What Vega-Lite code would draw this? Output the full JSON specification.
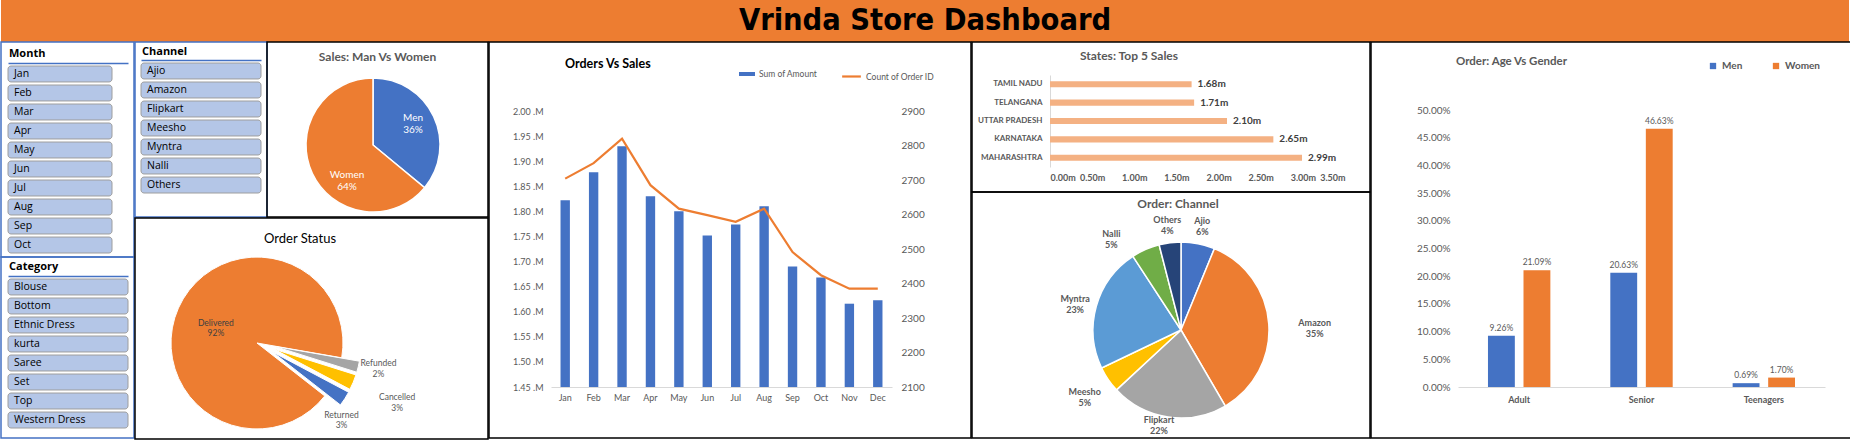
{
  "$schema": "https://vega.github.io/schema/vega-lite/v6.json",
  "padding": 0,
  "background": "white",
  "spacing": -1.5,
  "resolve": {"scale": {"color": "independent", "fill": "independent", "stroke": "independent", "theta": "independent"}, "legend": {"color": "independent", "fill": "independent", "stroke": "independent"}},
  "config": {
    "font": "Lato",
    "view": {"stroke": null},
    "axis": {"grid": false, "ticks": false, "domain": false, "labelFont": "Lato", "labelColor": "#595959"},
    "legend": {"labelFont": "Lato", "labelColor": "#595959"}
  },
  "vconcat": [
    {
      "width": 1848, "height": 42,
      "view": {"fill": "#ED7D31", "stroke": null},
      "data": {"values": [{"title": "Vrinda Store Dashboard"}]},
      "mark": {"type": "text", "font": "DejaVu Sans Condensed", "fontWeight": "bold", "fontSize": 30.5, "color": "black", "baseline": "middle", "align": "center"},
      "encoding": {"text": {"field": "title"}}
    },
    {
      "spacing": -4,
      "resolve": {"scale": {"color": "independent", "fill": "independent", "stroke": "independent", "theta": "independent"}, "legend": {"color": "independent", "fill": "independent", "stroke": "independent"}},
      "hconcat": [
        {
          "spacing": 0, "bounds": "flush",
          "vconcat": [
            {
              "width": 133, "height": 215,
              "view": {"stroke": "#4472C4", "strokeWidth": 1.5},
              "layer": [
                {
                  "data": {"values": [
                    {"slicer": "Month", "item": "Jan"}, {"slicer": "Month", "item": "Feb"}, {"slicer": "Month", "item": "Mar"},
                    {"slicer": "Month", "item": "Apr"}, {"slicer": "Month", "item": "May"}, {"slicer": "Month", "item": "Jun"},
                    {"slicer": "Month", "item": "Jul"}, {"slicer": "Month", "item": "Aug"}, {"slicer": "Month", "item": "Sep"},
                    {"slicer": "Month", "item": "Oct"}
                  ]},
                  "layer": [
                    {
                      "mark": {"type": "rect", "fill": "#B4C6E7", "stroke": "#9E9E9E", "strokeWidth": 1, "cornerRadius": 3, "clip": true},
                      "encoding": {
                        "x": {"field": "slicer", "type": "nominal", "scale": {"range": [7, 127], "paddingInner": 0, "paddingOuter": 0.0769, "align": 0}, "axis": {"orient": "top", "offset": -21, "title": null, "labels": false, "ticks": false, "domain": true, "domainColor": "#4472C4", "domainWidth": 1.5}},
                        "y": {"field": "item", "type": "nominal", "sort": null, "scale": {"range": [24, 211], "paddingInner": 0.16, "paddingOuter": 0}, "axis": null}
                      }
                    },
                    {
                      "mark": {"type": "text", "align": "left", "baseline": "middle", "dx": 6, "font": "Open Sans", "fontSize": 10.5, "color": "black", "clip": true},
                      "encoding": {
                        "x": {"field": "slicer", "type": "nominal", "bandPosition": 0, "axis": {"orient": "top", "offset": -21, "title": null, "labels": false, "ticks": false, "domain": true, "domainColor": "#4472C4", "domainWidth": 1.5}},
                        "y": {"field": "item", "type": "nominal", "sort": null, "axis": null},
                        "text": {"field": "item"}
                      }
                    }
                  ]
                },
                {
                  "data": {"values": [{"t": "Month"}]},
                  "mark": {"type": "text", "align": "left", "baseline": "middle", "dx": -58.5, "dy": -95.5, "font": "Open Sans", "fontSize": 11, "fontWeight": "bold", "color": "black"},
                  "encoding": {"text": {"field": "t"}}
                }
              ]
            },
            {
              "width": 133, "height": 181,
              "view": {"stroke": "#4472C4", "strokeWidth": 1.5},
              "layer": [
                {
                  "data": {"values": [
                    {"slicer": "Category", "item": "Blouse"}, {"slicer": "Category", "item": "Bottom"}, {"slicer": "Category", "item": "Ethnic Dress"},
                    {"slicer": "Category", "item": "kurta"}, {"slicer": "Category", "item": "Saree"}, {"slicer": "Category", "item": "Set"},
                    {"slicer": "Category", "item": "Top"}, {"slicer": "Category", "item": "Western Dress"}
                  ]},
                  "layer": [
                    {
                      "mark": {"type": "rect", "fill": "#B4C6E7", "stroke": "#9E9E9E", "strokeWidth": 1, "cornerRadius": 3, "clip": true},
                      "encoding": {
                        "x": {"field": "slicer", "type": "nominal", "scale": {"range": [7, 127], "paddingInner": 0, "paddingOuter": 0}, "axis": {"orient": "top", "offset": -19, "title": null, "labels": false, "ticks": false, "domain": true, "domainColor": "#4472C4", "domainWidth": 1.5}},
                        "y": {"field": "item", "type": "nominal", "sort": null, "scale": {"range": [22, 171], "paddingInner": 0.16, "paddingOuter": 0}, "axis": null}
                      }
                    },
                    {
                      "mark": {"type": "text", "align": "left", "baseline": "middle", "dx": 6, "font": "Open Sans", "fontSize": 10.5, "color": "black", "clip": true},
                      "encoding": {
                        "x": {"field": "slicer", "type": "nominal", "bandPosition": 0, "axis": {"orient": "top", "offset": -19, "title": null, "labels": false, "ticks": false, "domain": true, "domainColor": "#4472C4", "domainWidth": 1.5}},
                        "y": {"field": "item", "type": "nominal", "sort": null, "axis": null},
                        "text": {"field": "item"}
                      }
                    }
                  ]
                },
                {
                  "data": {"values": [{"t": "Category"}]},
                  "mark": {"type": "text", "align": "left", "baseline": "middle", "dx": -58.5, "dy": -80.5, "font": "Open Sans", "fontSize": 11, "fontWeight": "bold", "color": "black"},
                  "encoding": {"text": {"field": "t"}}
                }
              ]
            }
          ]
        },
        {
          "spacing": -3,
          "resolve": {"scale": {"color": "independent", "theta": "independent"}, "legend": {"color": "independent"}},
          "vconcat": [
            {
              "spacing": 0, "bounds": "flush",
              "resolve": {"scale": {"color": "independent", "theta": "independent"}, "legend": {"color": "independent"}},
              "hconcat": [
                {
                  "width": 132, "height": 175,
                  "view": {"stroke": "#4472C4", "strokeWidth": 1.5},
                  "layer": [
                    {
                      "data": {"values": [
                        {"slicer": "Channel", "item": "Ajio"}, {"slicer": "Channel", "item": "Amazon"}, {"slicer": "Channel", "item": "Flipkart"},
                        {"slicer": "Channel", "item": "Meesho"}, {"slicer": "Channel", "item": "Myntra"}, {"slicer": "Channel", "item": "Nalli"},
                        {"slicer": "Channel", "item": "Others"}
                      ]},
                      "layer": [
                        {
                          "mark": {"type": "rect", "fill": "#B4C6E7", "stroke": "#9E9E9E", "strokeWidth": 1, "cornerRadius": 3, "clip": true},
                          "encoding": {
                            "x": {"field": "slicer", "type": "nominal", "scale": {"range": [6, 126], "paddingInner": 0, "paddingOuter": 0}, "axis": {"orient": "top", "offset": -18, "title": null, "labels": false, "ticks": false, "domain": true, "domainColor": "#4472C4", "domainWidth": 1.5}},
                            "y": {"field": "item", "type": "nominal", "sort": null, "scale": {"range": [21, 151], "paddingInner": 0.16, "paddingOuter": 0}, "axis": null}
                          }
                        },
                        {
                          "mark": {"type": "text", "align": "left", "baseline": "middle", "dx": 6, "font": "Open Sans", "fontSize": 10.5, "color": "black", "clip": true},
                          "encoding": {
                            "x": {"field": "slicer", "type": "nominal", "bandPosition": 0, "axis": {"orient": "top", "offset": -18, "title": null, "labels": false, "ticks": false, "domain": true, "domainColor": "#4472C4", "domainWidth": 1.5}},
                            "y": {"field": "item", "type": "nominal", "sort": null, "axis": null},
                            "text": {"field": "item"}
                          }
                        }
                      ]
                    },
                    {
                      "data": {"values": [{"t": "Channel"}]},
                      "mark": {"type": "text", "align": "left", "baseline": "middle", "dx": -59, "dy": -77.5, "font": "Open Sans", "fontSize": 11, "fontWeight": "bold", "color": "black"},
                      "encoding": {"text": {"field": "t"}}
                    }
                  ]
                },
                {
                  "width": 221, "height": 175,
                  "view": {"stroke": "black", "strokeWidth": 1.5},
                  "layer": [
                    {
                      "data": {"values": [
                        {"gender": "Men", "share": 36, "label": "Men\n36%"},
                        {"gender": "Women", "share": 64, "label": "Women\n64%"}
                      ]},
                      "transform": [
                        {"stack": "share", "groupby": [], "sort": [{"field": "gender", "order": "ascending"}], "as": ["t0", "t1"]},
                        {"calculate": "(datum.t0 + datum.t1) / 2", "as": "tm"}
                      ],
                      "layer": [
                        {
                          "mark": {"type": "arc", "radius": 67, "stroke": "white", "strokeWidth": 1.5, "xOffset": -4.5, "yOffset": 15.5},
                          "encoding": {
                            "theta": {"field": "t0", "type": "quantitative", "scale": {"domain": [0, 100]}},
                            "theta2": {"field": "t1"},
                            "color": {"field": "gender", "type": "nominal", "scale": {"domain": ["Men", "Women"], "range": ["#4472C4", "#ED7D31"]}, "legend": null}
                          }
                        },
                        {
                          "transform": [{"filter": "datum.gender === 'Men'"}],
                          "mark": {"type": "text", "radius": 48, "xOffset": -7.9, "yOffset": 8.9, "lineBreak": "\n", "color": "white", "fontSize": 10},
                          "encoding": {"theta": {"field": "tm", "type": "quantitative", "stack": null}, "text": {"field": "label"}}
                        },
                        {
                          "transform": [{"filter": "datum.gender === 'Women'"}],
                          "mark": {"type": "text", "radius": 40, "xOffset": 5.7, "yOffset": 28.5, "lineBreak": "\n", "color": "white", "fontSize": 10},
                          "encoding": {"theta": {"field": "tm", "type": "quantitative", "stack": null}, "text": {"field": "label"}}
                        }
                      ]
                    },
                    {
                      "data": {"values": [{"t": "Sales: Man Vs Women"}]},
                      "mark": {"type": "text", "align": "center", "baseline": "middle", "dx": 0, "dy": -72.5, "fontSize": 12, "fontWeight": "bold", "color": "#595959"},
                      "encoding": {"text": {"field": "t"}}
                    }
                  ]
                }
              ]
            },
            {
              "width": 353, "height": 221,
              "view": {"stroke": "black", "strokeWidth": 1.5},
              "layer": [
                {
                  "data": {"values": [
                    {"status": "Delivered", "share": 92.2, "label": "Delivered\n92%"},
                    {"status": "Refunded", "share": 2.1, "label": "Refunded\n2%"},
                    {"status": "Cancelled", "share": 2.9, "label": "Cancelled\n3%"},
                    {"status": "Returned", "share": 2.8, "label": "Returned\n3%"}
                  ]},
                  "transform": [
                    {"calculate": "indexof(['Delivered','Refunded','Cancelled','Returned'], datum.status)", "as": "ord"},
                    {"stack": "share", "groupby": [], "sort": [{"field": "ord", "order": "ascending"}], "as": ["t0", "t1"]},
                    {"calculate": "(datum.t0 + datum.t1) / 2", "as": "tm"}
                  ],
                  "layer": [
                    {
                      "transform": [{"filter": "datum.status === 'Delivered'"}],
                      "mark": {"type": "arc", "radius": 86, "stroke": "white", "strokeWidth": 1, "xOffset": -54.5, "yOffset": 14.5},
                      "encoding": {
                        "theta": {"field": "t0", "type": "quantitative", "scale": {"domain": [0, 100], "range": [2.234, 8.517]}},
                        "theta2": {"field": "t1"},
                        "color": {"field": "status", "type": "nominal", "scale": {"domain": ["Delivered", "Refunded", "Cancelled", "Returned"], "range": ["#ED7D31", "#A5A5A5", "#FFC000", "#4472C4"]}, "legend": null}
                      }
                    },
                    {
                      "transform": [{"filter": "datum.status === 'Refunded'"}],
                      "mark": {"type": "arc", "radius": 86, "stroke": "white", "strokeWidth": 1, "xOffset": -36.8, "yOffset": 17.9},
                      "encoding": {"theta": {"field": "t0", "type": "quantitative"}, "theta2": {"field": "t1"}, "color": {"field": "status", "type": "nominal", "legend": null}}
                    },
                    {
                      "transform": [{"filter": "datum.status === 'Cancelled'"}],
                      "mark": {"type": "arc", "radius": 86, "stroke": "white", "strokeWidth": 1, "xOffset": -37.6, "yOffset": 20.6},
                      "encoding": {"theta": {"field": "t0", "type": "quantitative"}, "theta2": {"field": "t1"}, "color": {"field": "status", "type": "nominal", "legend": null}}
                    },
                    {
                      "transform": [{"filter": "datum.status === 'Returned'"}],
                      "mark": {"type": "arc", "radius": 86, "stroke": "white", "strokeWidth": 1, "xOffset": -38.9, "yOffset": 23.5},
                      "encoding": {"theta": {"field": "t0", "type": "quantitative"}, "theta2": {"field": "t1"}, "color": {"field": "status", "type": "nominal", "legend": null}}
                    },
                    {
                      "transform": [{"filter": "datum.status === 'Delivered'"}],
                      "mark": {"type": "text", "radius": 45, "xOffset": -54.5, "yOffset": 12.5, "lineBreak": "\n", "color": "#404040", "fontSize": 8.5},
                      "encoding": {"theta": {"field": "tm", "type": "quantitative", "stack": null}, "text": {"field": "label"}}
                    },
                    {
                      "transform": [{"filter": "datum.status === 'Refunded'"}],
                      "mark": {"type": "text", "radius": 126, "xOffset": -55.5, "yOffset": 5, "lineBreak": "\n", "color": "#595959", "fontSize": 8.5},
                      "encoding": {"theta": {"field": "tm", "type": "quantitative", "stack": null}, "text": {"field": "label"}}
                    },
                    {
                      "transform": [{"filter": "datum.status === 'Cancelled'"}],
                      "mark": {"type": "text", "radius": 153, "xOffset": -55.5, "yOffset": 9.5, "lineBreak": "\n", "color": "#595959", "fontSize": 8.5},
                      "encoding": {"theta": {"field": "tm", "type": "quantitative", "stack": null}, "text": {"field": "label"}}
                    },
                    {
                      "transform": [{"filter": "datum.status === 'Returned'"}],
                      "mark": {"type": "text", "radius": 115, "xOffset": -66.5, "yOffset": 23.5, "lineBreak": "\n", "color": "#595959", "fontSize": 8.5},
                      "encoding": {"theta": {"field": "tm", "type": "quantitative", "stack": null}, "text": {"field": "label"}}
                    }
                  ]
                },
                {
                  "data": {"values": [{"t": "Order Status"}]},
                  "mark": {"type": "text", "align": "center", "baseline": "middle", "dx": -11.5, "dy": -89.5, "fontSize": 13, "color": "black"},
                  "encoding": {"text": {"field": "t"}}
                }
              ]
            }
          ]
        },
        {
          "width": 482, "height": 396,
          "view": {"stroke": "black", "strokeWidth": 1.5},
          "layer": [
            {
              "data": {"values": [
                {"month": "Jan", "amount": 1822000, "orders": 2704},
                {"month": "Feb", "amount": 1878000, "orders": 2749},
                {"month": "Mar", "amount": 1930000, "orders": 2820},
                {"month": "Apr", "amount": 1830000, "orders": 2685},
                {"month": "May", "amount": 1800000, "orders": 2617},
                {"month": "Jun", "amount": 1752000, "orders": 2598},
                {"month": "Jul", "amount": 1774000, "orders": 2579},
                {"month": "Aug", "amount": 1810000, "orders": 2617},
                {"month": "Sep", "amount": 1690000, "orders": 2491},
                {"month": "Oct", "amount": 1668000, "orders": 2424},
                {"month": "Nov", "amount": 1616000, "orders": 2385},
                {"month": "Dec", "amount": 1623000, "orders": 2385}
              ]},
              "encoding": {
                "x": {"field": "month", "type": "nominal", "sort": null, "scale": {"range": [62, 403], "paddingInner": 0.67, "paddingOuter": 0.335}, "axis": {"title": null, "orient": "bottom", "offset": -51, "labelAngle": 0, "domain": true, "domainColor": "#D9D9D9", "labelFontSize": 9, "labelPadding": 6}}
              },
              "layer": [
                {
                  "mark": {"type": "bar"},
                  "encoding": {
                    "y": {"field": "amount", "type": "quantitative", "scale": {"domain": [1450000, 2000000], "range": [345, 69], "zero": false, "nice": false}, "axis": {"title": null, "orient": "left", "offset": -62, "values": [1450000, 1500000, 1550000, 1600000, 1650000, 1700000, 1750000, 1800000, 1850000, 1900000, 1950000, 2000000], "labelExpr": "format(datum.value / 1000000, '.2f') + ' .M'", "labelFontSize": 9, "labelPadding": 8}},
                    "y2": {"datum": 1450000},
                    "fill": {"datum": "Sum of Amount", "type": "nominal", "scale": {"range": ["#4472C4"]}, "legend": {"orient": "none", "legendX": 250, "legendY": 24, "title": null, "symbolType": "M-1,-0.25H1V0.25H-1Z", "symbolSize": 256, "symbolStrokeWidth": 0, "labelFontSize": 8.5, "labelColor": "#595959"}}
                  }
                },
                {
                  "mark": {"type": "line", "strokeWidth": 2.2},
                  "encoding": {
                    "y": {"field": "orders", "type": "quantitative", "scale": {"domain": [2100, 2900], "range": [345, 69], "zero": false, "nice": false}, "axis": {"title": null, "orient": "right", "offset": -79, "values": [2100, 2200, 2300, 2400, 2500, 2600, 2700, 2800, 2900], "format": "d", "labelFontSize": 10, "labelPadding": 9}},
                    "stroke": {"datum": "Count of Order ID", "type": "nominal", "scale": {"range": ["#ED7D31"]}, "legend": {"orient": "none", "legendX": 352, "legendY": 24, "title": null, "symbolType": "stroke", "symbolSize": 350, "symbolStrokeWidth": 2.2, "labelFontSize": 8.5, "labelColor": "#595959"}}
                  }
                }
              ],
              "resolve": {"scale": {"y": "independent"}}
            },
            {
              "data": {"values": [{"t": "Orders Vs Sales"}]},
              "mark": {"type": "text", "align": "left", "baseline": "middle", "dx": -165, "dy": -176, "fontSize": 12.5, "fontWeight": "bold", "color": "black"},
              "encoding": {"text": {"field": "t"}}
            }
          ]
        },
        {
          "spacing": 0, "bounds": "flush",
          "resolve": {"scale": {"color": "independent", "theta": "independent"}, "legend": {"color": "independent"}},
          "vconcat": [
            {
              "width": 398, "height": 150,
              "view": {"stroke": "black", "strokeWidth": 1.5},
              "layer": [
                {
                  "data": {"values": [
                    {"state": "TAMIL NADU", "sales": 1680000},
                    {"state": "TELANGANA", "sales": 1710000},
                    {"state": "UTTAR PRADESH", "sales": 2100000},
                    {"state": "KARNATAKA", "sales": 2650000},
                    {"state": "MAHARASHTRA", "sales": 2990000}
                  ]},
                  "encoding": {
                    "y": {"field": "state", "type": "nominal", "sort": null, "scale": {"range": [33, 125], "paddingInner": 0.67, "paddingOuter": 0.335}, "axis": {"title": null, "orient": "left", "offset": -78, "domain": true, "domainColor": "#D9D9D9", "labelFontSize": 8, "labelFontWeight": "bold", "labelPadding": 8}},
                    "x": {"field": "sales", "type": "quantitative", "scale": {"domain": [0, 3500000], "range": [78, 373], "nice": false}, "axis": {"title": null, "orient": "bottom", "offset": -25, "values": [0, 500000, 1000000, 1500000, 2000000, 2500000, 3000000, 3500000], "labelExpr": "format(datum.value / 1000000, '.2f') + 'm'", "labelFontSize": 9, "labelFontWeight": "bold", "labelPadding": 6}}
                  },
                  "layer": [
                    {"mark": {"type": "bar", "color": "#F4B183"}},
                    {
                      "transform": [{"calculate": "format(datum.sales / 1000000, '.2f') + 'm'", "as": "lbl"}],
                      "mark": {"type": "text", "align": "left", "baseline": "middle", "dx": 6, "fontSize": 10, "fontWeight": "bold", "color": "#404040"},
                      "encoding": {"text": {"field": "lbl"}}
                    }
                  ]
                },
                {
                  "data": {"values": [{"t": "States: Top 5 Sales"}]},
                  "mark": {"type": "text", "align": "left", "baseline": "middle", "dx": -91, "dy": -61, "fontSize": 12, "fontWeight": "bold", "color": "#595959"},
                  "encoding": {"text": {"field": "t"}}
                }
              ]
            },
            {
              "width": 398, "height": 246,
              "view": {"stroke": "black", "strokeWidth": 1.5},
              "layer": [
                {
                  "data": {"values": [
                    {"channel": "Ajio", "share": 6.2, "label": "Ajio\n6%"},
                    {"channel": "Amazon", "share": 35.4, "label": "Amazon\n35%"},
                    {"channel": "Flipkart", "share": 21.5, "label": "Flipkart\n22%"},
                    {"channel": "Meesho", "share": 4.8, "label": "Meesho\n5%"},
                    {"channel": "Myntra", "share": 22.9, "label": "Myntra\n23%"},
                    {"channel": "Nalli", "share": 5.2, "label": "Nalli\n5%"},
                    {"channel": "Others", "share": 4.0, "label": "Others\n4%"}
                  ]},
                  "transform": [
                    {"stack": "share", "groupby": [], "sort": [{"field": "channel", "order": "ascending"}], "as": ["t0", "t1"]},
                    {"calculate": "(datum.t0 + datum.t1) / 2", "as": "tm"}
                  ],
                  "layer": [
                    {
                      "mark": {"type": "arc", "radius": 88, "stroke": "white", "strokeWidth": 1.5, "xOffset": 10, "yOffset": 15},
                      "encoding": {
                        "theta": {"field": "t0", "type": "quantitative", "scale": {"domain": [0, 100]}},
                        "theta2": {"field": "t1"},
                        "color": {"field": "channel", "type": "nominal", "scale": {"domain": ["Ajio", "Amazon", "Flipkart", "Meesho", "Myntra", "Nalli", "Others"], "range": ["#4472C4", "#ED7D31", "#A5A5A5", "#FFC000", "#5B9BD5", "#70AD47", "#264478"]}, "legend": null}
                      }
                    },
                    {
                      "transform": [{"filter": "datum.channel === 'Ajio' || datum.channel === 'Others' || datum.channel === 'Myntra'"}],
                      "mark": {"type": "text", "radius": 110, "xOffset": 10, "yOffset": 14, "lineBreak": "\n", "fontSize": 9, "fontWeight": "bold", "color": "#595959"},
                      "encoding": {"theta": {"field": "tm", "type": "quantitative", "stack": null}, "text": {"field": "label"}}
                    },
                    {
                      "transform": [{"filter": "datum.channel === 'Amazon'"}],
                      "mark": {"type": "text", "radius": 134, "xOffset": 10, "yOffset": 17, "lineBreak": "\n", "fontSize": 9, "fontWeight": "bold", "color": "#595959"},
                      "encoding": {"theta": {"field": "tm", "type": "quantitative", "stack": null}, "text": {"field": "label"}}
                    },
                    {
                      "transform": [{"filter": "datum.channel === 'Flipkart'"}],
                      "mark": {"type": "text", "radius": 95, "xOffset": 2, "yOffset": 11, "lineBreak": "\n", "fontSize": 9, "fontWeight": "bold", "color": "#595959"},
                      "encoding": {"theta": {"field": "tm", "type": "quantitative", "stack": null}, "text": {"field": "label"}}
                    },
                    {
                      "transform": [{"filter": "datum.channel === 'Meesho'"}],
                      "mark": {"type": "text", "radius": 114, "xOffset": 8, "yOffset": 13, "lineBreak": "\n", "fontSize": 9, "fontWeight": "bold", "color": "#595959"},
                      "encoding": {"theta": {"field": "tm", "type": "quantitative", "stack": null}, "text": {"field": "label"}}
                    },
                    {
                      "transform": [{"filter": "datum.channel === 'Nalli'"}],
                      "mark": {"type": "text", "radius": 112, "xOffset": -14.5, "yOffset": 22, "lineBreak": "\n", "fontSize": 9, "fontWeight": "bold", "color": "#595959"},
                      "encoding": {"theta": {"field": "tm", "type": "quantitative", "stack": null}, "text": {"field": "label"}}
                    }
                  ]
                },
                {
                  "data": {"values": [{"t": "Order: Channel"}]},
                  "mark": {"type": "text", "align": "center", "baseline": "middle", "dx": 7, "dy": -111, "fontSize": 12, "fontWeight": "bold", "color": "#595959"},
                  "encoding": {"text": {"field": "t"}}
                }
              ]
            }
          ]
        },
        {
          "width": 482, "height": 396,
          "view": {"stroke": "black", "strokeWidth": 1.5},
          "layer": [
            {
              "data": {"values": [
                {"age": "Adult", "gender": "Men", "pct": 0.0926},
                {"age": "Adult", "gender": "Women", "pct": 0.2109},
                {"age": "Senior", "gender": "Men", "pct": 0.2063},
                {"age": "Senior", "gender": "Women", "pct": 0.4663},
                {"age": "Teenagers", "gender": "Men", "pct": 0.0069},
                {"age": "Teenagers", "gender": "Women", "pct": 0.017}
              ]},
              "encoding": {
                "x": {"field": "age", "type": "nominal", "sort": null, "scale": {"range": [87, 454], "paddingInner": 0.49, "paddingOuter": 0.245}, "axis": {"title": null, "orient": "bottom", "offset": -51, "labelAngle": 0, "domain": true, "domainColor": "#D9D9D9", "labelFontSize": 9, "labelFontWeight": "bold", "labelPadding": 8}},
                "xOffset": {"field": "gender", "type": "nominal", "scale": {"paddingInner": 0.244, "paddingOuter": 0}},
                "y": {"field": "pct", "type": "quantitative", "scale": {"domain": [0, 0.5], "range": [345, 68], "nice": false}, "axis": {"title": null, "orient": "left", "offset": -87, "values": [0, 0.05, 0.1, 0.15, 0.2, 0.25, 0.3, 0.35, 0.4, 0.45, 0.5], "format": ".2%", "labelFontSize": 10, "labelPadding": 8}}
              },
              "layer": [
                {
                  "mark": {"type": "bar"},
                  "encoding": {
                    "color": {"field": "gender", "type": "nominal", "scale": {"domain": ["Men", "Women"], "range": ["#4472C4", "#ED7D31"]}, "legend": {"orient": "none", "direction": "horizontal", "legendX": 337, "legendY": 19, "title": null, "symbolType": "square", "symbolSize": 40, "symbolStrokeWidth": 0, "labelFontSize": 10, "labelFontWeight": "bold", "labelColor": "#595959", "columnPadding": 28}}
                  }
                },
                {
                  "mark": {"type": "text", "dy": -8, "fontSize": 8.5, "color": "#595959"},
                  "encoding": {"text": {"field": "pct", "type": "quantitative", "format": ".2%"}}
                }
              ]
            },
            {
              "data": {"values": [{"t": "Order: Age Vs Gender"}]},
              "mark": {"type": "text", "align": "left", "baseline": "middle", "dx": -156, "dy": -178, "fontSize": 11.5, "fontWeight": "bold", "color": "#595959"},
              "encoding": {"text": {"field": "t"}}
            }
          ]
        }
      ]
    }
  ]
}
